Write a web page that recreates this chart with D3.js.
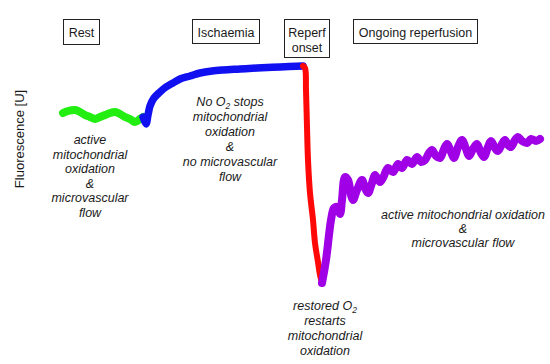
<!DOCTYPE html>
<html>
<head>
<meta charset="utf-8">
<script src="https://cdn.jsdelivr.net/npm/d3@7"></script>
<style>
  body { margin: 0; background: #fff; }
  svg text { font-family: "Liberation Sans", Arial, sans-serif; fill: #1a1a1a; }
  .note { font-style: italic; font-size: 12.5px; }
  .phase { font-size: 12.5px; }
</style>
</head>
<body>
<div class="gv-chart"></div>
<script>
// time (s) and fluorescence (U), one array pair per phase
var restT = [1, 6, 13, 18, 23, 28, 33, 38, 43, 48, 53, 58, 63, 68, 73, 78, 81];
var restF = [177, 179, 180, 178, 175, 173, 171, 173, 175, 177, 178, 176, 173, 171, 168, 171, 173];

var ischT = [81, 84, 86, 88, 92, 98, 104, 111, 118, 128, 138, 150, 161, 178, 195, 218, 241];
var ischF = [173, 166, 175, 184, 192, 198, 203, 207, 211, 214, 217, 219, 220, 221, 222, 223, 224];

var onsetT = [241, 243, 244, 245, 246, 248, 251, 253, 256, 258, 260];
var onsetF = [224, 222, 200, 163, 130, 97, 70, 47, 28, 15, 7];

var ongoingT = [260, 264, 267, 269, 272, 275, 278, 280, 283, 286,
                289, 291, 295, 300, 303, 306, 310, 313, 318, 321,
                326, 331, 336, 340, 345, 350, 355, 359, 363, 367,
                370, 374, 378, 382, 385, 389, 392, 396, 400, 404,
                407, 411, 415, 419, 422, 426, 429, 433, 436, 440,
                443, 446, 449, 453, 456, 460, 465, 469, 474, 478];
var ongoingF = [7, 30, 55, 70, 82, 83, 76, 90, 113, 110,
                95, 90, 100, 110, 102, 97, 107, 115, 108, 112,
                122, 118, 126, 122, 130, 126, 133, 128, 130, 137,
                140, 134, 132, 141, 146, 138, 132, 143, 150, 141,
                134, 141, 146, 137, 133, 143, 149, 142, 139, 146,
                150, 145, 143, 150, 153, 149, 147, 151, 149, 151];

var phaseNames = ["Rest", "Ischaemia", "Reperf|onset", "Ongoing reperfusion"];
var phaseColors = ["#22ee11", "#1010f0", "#ff0808", "#a000e6"];

var width = 550, height = 364;

var svg = d3.select(".gv-chart").append("svg")
    .attr("width", width).attr("height", height);

var x = d3.scaleLinear().domain([0, 480]).range([62, 542]);
var y = d3.scaleLinear().domain([0, 230]).range([290, 60]);

var series = [
  { t: restT, f: restF, w: 8 },
  { t: ischT, f: ischF, w: 7.5 },
  { t: onsetT, f: onsetF, w: 6 },
  { t: ongoingT, f: ongoingF, w: 8 }
];

var line = d3.line()
    .x(function(d) { return x(d[0]); })
    .y(function(d) { return y(d[1]); })
    .curve(d3.curveCatmullRom);

series.forEach(function(s, i) {
  var pts = s.t.map(function(t, k) { return [t, s.f[k]]; });
  svg.append("path")
      .attr("d", line(pts))
      .attr("fill", "none")
      .attr("stroke", phaseColors[i])
      .attr("stroke-width", s.w)
      .attr("stroke-linecap", "round")
      .attr("stroke-linejoin", "round");
});

// y axis label only, no axis line
svg.append("text")
    .attr("transform", "translate(24,139) rotate(-90)")
    .attr("text-anchor", "middle")
    .style("font-size", "13px")
    .text("Fluorescence [U]");

// phase boxes
var boxes = [
  { x: 63, w: 36, h: 25 },
  { x: 192, w: 67, h: 24 },
  { x: 284, w: 45, h: 38 },
  { x: 353, w: 124, h: 24 }
];
boxes.forEach(function(b, i) {
  var g = svg.append("g").attr("transform", "translate(" + b.x + ",19.5)");
  g.append("rect")
      .attr("x", 0.5).attr("width", b.w).attr("height", b.h)
      .attr("fill", "#fff").attr("stroke", "#222").attr("stroke-width", 1);
  var lines = phaseNames[i].split("|");
  lines.forEach(function(l, k) {
    g.append("text")
        .attr("class", "phase")
        .attr("x", b.w / 2 + 0.5)
        .attr("y", 17 + k * 15)
        .attr("text-anchor", "middle")
        .text(l);
  });
});

// italic annotations
function note(cx, y0, dy, lines) {
  lines.forEach(function(l, k) {
    var t = svg.append("text")
        .attr("class", "note")
        .attr("x", cx)
        .attr("y", y0 + k * dy)
        .attr("text-anchor", "middle");
    if (l.indexOf("O2") >= 0) {
      var parts = l.split("O2");
      t.append("tspan").text(parts[0] + "O");
      t.append("tspan").attr("dy", 3).style("font-size", "8.5px").text("2");
      t.append("tspan").attr("dy", -3).text(parts[1]);
    } else {
      t.text(l);
    }
  });
}

note(90, 144, 14.5, ["active", "mitochondrial", "oxidation", "&", "microvascular", "flow"]);
note(230, 106, 15, ["No O2 stops", "mitochondrial", "oxidation", "&", "no microvascular", "flow"]);
note(325, 310, 15, ["restored O2", "restarts", "mitochondrial", "oxidation"]);
note(463, 219, 14, ["active mitochondrial oxidation", "&", "microvascular flow"]);
</script>
</body>
</html>
